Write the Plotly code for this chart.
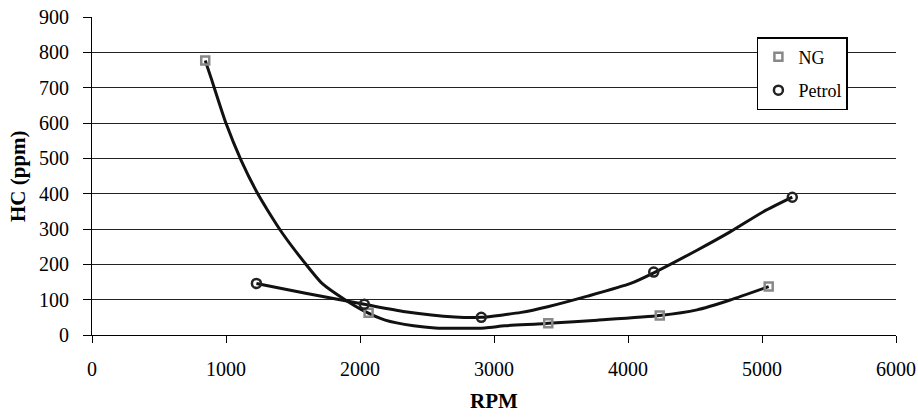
import plotly.graph_objects as go

# Measured points (markers)
ng_rpm = [845, 2064, 3405, 4237, 5050]
ng_hc = [777, 63, 33, 55, 137]
petrol_rpm = [1227, 2032, 2905, 4192, 5226]
petrol_hc = [146, 87, 50, 178, 390]

# Trend curves
ng_curve_rpm = [845, 889, 1000, 1112, 1235, 1309, 1421, 1582, 1717, 1891, 2040, 2188, 2400,
                2560, 2931, 3079, 3327, 3405, 3772, 4237, 4515, 4762, 5050]
ng_curve_hc = [777, 727, 599, 495, 401, 354, 288, 207, 146, 99, 66, 42, 26,
               20, 20, 26, 31, 33, 42, 55, 71, 99, 137]
petrol_curve_rpm = [1227, 1594, 2032, 2337, 2708, 2905, 3203, 3401, 3698, 4020, 4192, 4515,
                    4762, 5010, 5226]
petrol_curve_hc = [146, 118, 87, 66, 51, 50, 64, 80, 110, 146, 176, 240,
                   292, 349, 390]

x_ticks = [0, 1000, 2000, 3000, 4000, 5000, 6000]
y_ticks = [0, 100, 200, 300, 400, 500, 600, 700, 800, 900]

FONT = "Liberation Serif"

fig = go.Figure()
fig.add_trace(go.Scatter(x=ng_curve_rpm, y=ng_curve_hc, mode="lines", showlegend=False,
                         line=dict(color="#111111", width=3, shape="spline", smoothing=0.6),
                         hoverinfo="skip"))
fig.add_trace(go.Scatter(x=petrol_curve_rpm, y=petrol_curve_hc, mode="lines", showlegend=False,
                         line=dict(color="#111111", width=3, shape="spline", smoothing=0.6),
                         hoverinfo="skip"))
fig.add_trace(go.Scatter(x=ng_rpm, y=ng_hc, mode="markers", name="NG", legendgroup="a",
                         marker=dict(symbol="square-open", size=8, color="#888888",
                                     line=dict(width=2.5, color="#888888"))))
fig.add_trace(go.Scatter(x=petrol_rpm, y=petrol_hc, mode="markers", name="Petrol", legendgroup="b",
                         marker=dict(symbol="circle-open", size=9, color="#222222",
                                     line=dict(width=2.5, color="#222222"))))

fig.update_layout(
    template="none",
    width=918, height=417,
    margin=dict(l=92, r=22, t=17, b=82, autoexpand=False),
    paper_bgcolor="white", plot_bgcolor="white",
    font=dict(family=FONT, size=20, color="black"),
    showlegend=True,
    legend=dict(x=0.827, y=0.937, xanchor="left", yanchor="top",
                bgcolor="white", bordercolor="black", borderwidth=1.5,
                font=dict(family=FONT, size=18, color="black"),
                itemwidth=30, traceorder="grouped", tracegroupgap=7),
    annotations=[
        dict(text="<b>HC (ppm)</b>", xref="paper", yref="paper",
             x=(18 - 92) / 804, y=0.5, xanchor="center", yanchor="middle",
             textangle=-90, showarrow=False,
             font=dict(family=FONT, size=21, color="black")),
        dict(text="<b>RPM</b>", xref="paper", yref="paper",
             x=0.5, y=(335 - 401) / 318, xanchor="center", yanchor="middle",
             showarrow=False, font=dict(family=FONT, size=21, color="black")),
    ],
)
fig.update_xaxes(range=[0, 6000], tickvals=x_ticks, ticktext=[str(v) for v in x_ticks],
                 automargin=False, ticklabeloverflow="allow",
                 showgrid=False, zeroline=False, showline=True, linecolor="black", linewidth=1,
                 ticks="outside", ticklen=7, tickcolor="black",
                 ticklabelstandoff=9,
                 tickfont=dict(family=FONT, size=20, color="black"))
fig.update_yaxes(range=[0, 900], tickvals=y_ticks, ticktext=[str(v) for v in y_ticks],
                 automargin=False, ticklabeloverflow="allow",
                 showgrid=True, gridcolor="#222222", gridwidth=1, zeroline=False,
                 showline=True, linecolor="black", linewidth=1,
                 ticks="outside", ticklen=8, tickcolor="black",
                 ticklabelstandoff=10,
                 tickfont=dict(family=FONT, size=20, color="black"))

fig.write_html("out.html",
               config={"displayModeBar": False},
               post_script="document.body.style.margin='0';document.body.style.overflow='hidden';")
